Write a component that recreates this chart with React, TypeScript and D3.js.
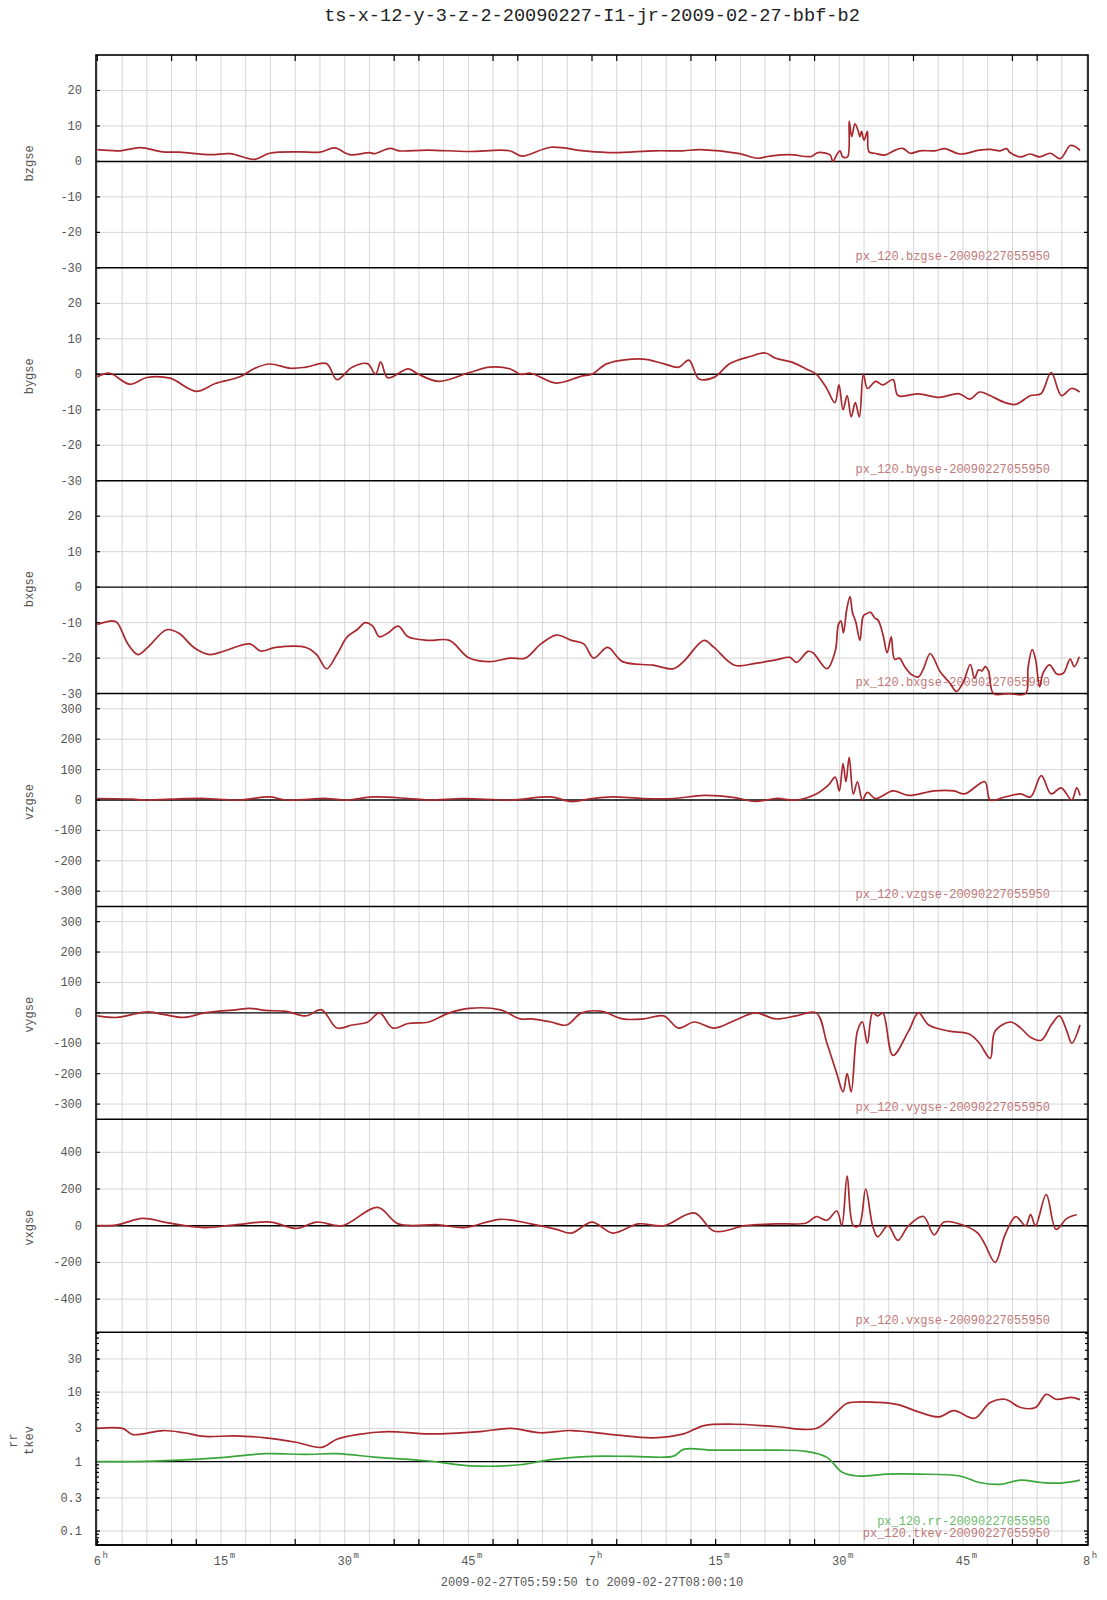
import React from 'react';
import * as d3 from 'd3';

const TITLE = 'ts-x-12-y-3-z-2-20090227-I1-jr-2009-02-27-bbf-b2';
const SUBTITLE = '2009-02-27T05:59:50 to 2009-02-27T08:00:10';

// time in minutes after 06:00
const T_START = -1 / 6;
const T_END = 120 + 1 / 6;

const X_LABELS: [number, string, string][] = [
  [0, '6', 'h'], [15, '15', 'm'], [30, '30', 'm'], [45, '45', 'm'], [60, '7', 'h'],
  [75, '15', 'm'], [90, '30', 'm'], [105, '45', 'm'], [120, '8', 'h'],
];
const X_TICKS = [0, 9, 12, 24, 36, 39, 48, 51, 60, 63, 72, 75, 84, 87, 99, 111, 114];

const B_TICKS = [-30, -20, -10, 0, 10, 20];
const V_TICKS = [-300, -200, -100, 0, 100, 200, 300];
const VX_TICKS = [-400, -200, 0, 200, 400];
const LOG_TICKS = [0.1, 0.3, 1, 3, 10, 30];
const LOG_LABELS = ['0.1', '0.3', '1', '3', '10', '30'];

const bzgse: [number, number][] = [
  [0, 3.3], [2.8, 3.0], [5.2, 3.9], [7.9, 2.7], [10, 2.6], [13.7, 1.9], [16.1, 2.2], [19.1, 0.6],
  [20.9, 2.3], [24.5, 2.7], [27, 2.6], [28.8, 3.8], [30.6, 1.9], [33, 2.5], [33.6, 2.2], [35.5, 3.7],
  [36.6, 3.0], [40, 3.2], [45, 2.8], [50, 3.0], [51.5, 1.5], [55, 4.0], [59, 3.0], [62.6, 2.5],
  [67.6, 3.0], [71, 3.0], [73.1, 3.3], [77.9, 2.2], [80, 0.9], [81.6, 1.5], [84, 1.9], [86.6, 1.4],
  [87.4, 2.5], [88.9, 1.8], [89.2, 0.0], [89.8, 2.3], [90.1, 3.0], [90.4, 1.3], [91, 1.3], [91.2, 11.4],
  [91.5, 7], [91.9, 10.6], [92.3, 8.5], [92.5, 7], [92.7, 8.5], [93, 6], [93.4, 8.5], [93.6, 2.7],
  [94.3, 2.3], [95.5, 1.8], [96.8, 3.2], [97.7, 3.7], [98.6, 2.3], [99.8, 3], [101.6, 3], [102.8, 3.6],
  [104.6, 2.1], [107, 3.2], [108.3, 3.4], [109.5, 3], [110.3, 3.6], [110.7, 2.5], [112, 1.3], [113.1, 2.1],
  [114.3, 1.3], [115.6, 2.3], [116.8, 0.8], [118, 4.5], [118.6, 4.2], [119.2, 3.1],
];

const bygse: [number, number][] = [
  [0, -0.7], [1.5, 0.3], [3.9, -2.8], [6, -0.9], [8.8, -1.1], [12, -4.8], [14.3, -2.6], [17.3, -0.7],
  [19.1, 1.7], [20.9, 2.9], [23.4, 1.7], [25.3, 2], [27.8, 3], [29.05, -1.5], [30.9, 2], [32.76, 3],
  [33.75, 0], [34.37, 3.5], [35.23, -1], [37.71, 1.5], [38.95, 0], [41.42, -2], [45.14, 0.5], [47.61, 2],
  [50.09, 1.5], [51.33, 0], [52.56, 0.3], [55.66, -2.5], [58.75, -0.5], [60, 0], [61.85, 3], [66.18, 4.3],
  [68.66, 3], [70.52, 2], [71.75, 4], [72.99, -1.3], [74.85, -0.8], [76.7, 3], [79.18, 5], [81.04, 6],
  [82.28, 4.5], [84.14, 3.5], [85.99, 1.5], [87.23, 0], [88.47, -4], [89.46, -8], [89.96, -3], [90.45, -10],
  [90.95, -6], [91.44, -12], [91.94, -8], [92.43, -12], [92.92, 0], [93.42, -4], [94.41, -2], [95.28, -3],
  [96.52, -1.5], [97.13, -6], [99.61, -5.5], [102.09, -6.5], [104.56, -5.5], [105.8, -7], [107.04, -5],
  [108.27, -6], [110.13, -8], [111.37, -8.5], [113.22, -6], [114.46, -5.5], [115.7, 0.5], [116.94, -6],
  [118.17, -4], [119.16, -5],
];

const bxgse: [number, number][] = [
  [0, -10.5], [1.8, -9.5], [2.4, -10], [3.7, -16], [4.9, -19], [6.1, -17], [8.4, -12], [9.9, -13],
  [11.7, -17], [13.6, -19], [15.4, -18], [18.5, -16], [19.8, -18], [21.6, -17], [25.3, -17], [26.6, -19],
  [27.8, -23], [29.05, -19], [30.3, -14], [31.5, -12], [32.5, -10], [33.4, -11], [34.2, -14], [35.2, -13],
  [36.5, -11], [37.7, -14], [40.2, -15], [42.7, -15], [45.1, -20], [47.6, -21], [50.1, -20], [51.9, -20],
  [53.8, -16], [55.7, -13.5], [57.5, -15], [59, -16], [60.2, -20], [61.9, -17], [63.7, -21], [67.4, -22],
  [69.9, -23], [71.1, -21], [73.6, -15], [74.8, -17], [77.3, -22], [79.8, -21.5], [82.3, -20.5], [84, -19.8],
  [84.8, -21.2], [86.2, -18.1], [86.8, -18.5], [88.5, -23], [89.5, -18.1], [89.9, -10.5], [90.2, -9.6],
  [90.5, -12.9], [90.9, -6.3], [91.3, -2.7], [91.6, -7.2], [92, -9.8], [92.5, -15], [92.9, -8.2], [93.3, -7.5],
  [93.8, -7.1], [94.3, -8.7], [94.7, -9.3], [95.3, -13.4], [95.8, -18.5], [96.3, -14], [96.7, -20.3],
  [97.3, -20], [97.9, -22.3], [98.8, -24.7], [99.6, -25.3], [100.2, -23], [101, -18.7], [101.4, -19.8],
  [102.2, -23.7], [103.4, -27], [104.2, -29.4], [105, -27], [105.9, -21.8], [106.4, -25.7], [106.9, -23.3],
  [107.3, -23.6], [107.7, -22.4], [108.1, -23.6], [108.7, -33], [110.5, -35], [112.6, -33], [112.9, -22.6],
  [113.4, -17.6], [113.8, -20.3], [114.3, -28.1], [114.7, -24.3], [115.5, -21.9], [116.4, -24.5],
  [117.2, -24.2], [118, -20.3], [118.5, -22.4], [119.1, -19.6],
];

const vzgse: [number, number][] = [
  [0, 5], [4.3, 3], [5.5, 0], [9, 3], [13, 5], [17, 0], [21, 10], [22.9, 0], [27.8, 5], [30.3, 0],
  [33.4, 10], [37.7, 5], [40.2, 0], [44.5, 5], [50.1, 0], [55, 10], [57.5, -5], [60, 5], [62.5, 10],
  [66.2, 5], [69.9, 5], [73.6, 15], [77.3, 8], [79.8, -5], [82.3, 5], [84.8, 0], [87.2, 20], [88.7, 50],
  [89.5, 75], [90, 30], [90.45, 120], [90.8, 60], [91.2, 140], [91.7, 20], [92.2, 60], [92.8, 0],
  [93.4, 25], [94.4, 5], [96.5, 30], [98.4, 15], [101.5, 30], [103.9, 30], [105.2, 20], [107.65, 60],
  [108.3, 0], [110.1, 10], [112, 20], [113.2, 10], [114.5, 80], [115.7, 20], [116.9, 40], [118.2, 0],
  [118.8, 40], [119.2, 15],
];

const vygse: [number, number][] = [
  [0, -10], [2.4, -15], [4.3, -5], [6.1, 3], [8, -5], [10.5, -15], [13, 0], [16.7, 10], [18.5, 15],
  [20.4, 8], [22.9, 5], [25.3, -10], [27.2, 10], [29.05, -50], [30.9, -40], [32.8, -30], [34.24, 0],
  [35.85, -50], [37.7, -35], [40.2, -30], [42.7, 0], [45.1, 15], [48.9, 10], [51.3, -20], [52.6, -20],
  [55, -30], [56.9, -40], [58.75, 0], [61.2, 5], [63.7, -20], [66.2, -20], [68.7, -10], [70.5, -50],
  [72.4, -30], [74.85, -50], [77.3, -25], [79.8, 0], [82.3, -20], [84.75, -10], [87.2, 0], [88.5, -100],
  [89.7, -200], [90.45, -260], [90.95, -200], [91.44, -260], [92.2, -60], [92.8, -30], [93.4, -100],
  [94.04, 0], [94.66, -10], [95.28, 0], [96.5, -140], [98.4, -60], [99.6, 0], [100.85, -40], [103.3, -60],
  [105.8, -70], [107, -100], [108.3, -150], [108.9, -60], [110.75, -30], [112, -50], [113.2, -80],
  [114.5, -90], [115.7, -40], [116.7, -10], [117.6, -60], [118.2, -100], [119.2, -40],
];

const vxgse: [number, number][] = [
  [0, 0], [2.4, 5], [5.5, 40], [8.6, 15], [12.95, -10], [16.7, 5], [21, 20], [24.1, -15], [26.6, 20],
  [29.7, 0], [34, 100], [36.5, 10], [41.4, 5], [44.5, -10], [48.9, 35], [52.6, 10], [55.7, -20],
  [57.5, -40], [60, 20], [62.5, -40], [65.6, 10], [68.7, 0], [72.4, 70], [74.85, -30], [78.6, 0],
  [82.3, 10], [86, 15], [87.2, 50], [88.5, 30], [89.7, 80], [90.3, 0], [90.95, 270], [91.7, 0], [92.4, 0],
  [93.2, 200], [94.04, 0], [94.66, -60], [95.9, 0], [97.1, -80], [98.4, 0], [100.2, 50], [101.5, -50],
  [102.7, 20], [105.2, 0], [106.8, -40], [107.65, -100], [108.9, -200], [110.1, -50], [111.4, 50],
  [112.6, 0], [113.2, 60], [113.8, 0], [115.1, 170], [116.3, -20], [117.6, 40], [118.8, 60],
];

const tkev: [number, number][] = [
  [0, 3.0], [3.05, 3.0], [4.3, 2.45], [8, 2.8], [10.5, 2.6], [13, 2.3], [16.7, 2.35], [20.4, 2.2],
  [24.1, 1.9], [27.2, 1.6], [29.05, 2.1], [31.5, 2.45], [35.2, 2.7], [40.2, 2.5], [46.4, 2.7], [50.1, 3.0],
  [53.8, 2.6], [57.5, 2.8], [62.5, 2.45], [67.4, 2.2], [71.1, 2.5], [73.6, 3.3], [77.3, 3.45], [82.3, 3.2],
  [87.2, 3.0], [89.7, 5.2], [90.95, 6.9], [94.66, 7.1], [97.1, 6.6], [99.6, 5.2], [102.1, 4.4], [103.9, 5.4],
  [106.4, 4.2], [108.3, 7.1], [110.1, 7.9], [112, 6], [113.8, 6], [115.1, 9.3], [116.3, 7.9], [118.2, 8.4],
  [119.2, 7.8],
];

const rr: [number, number][] = [
  [0, 1.0], [4.3, 1.0], [9.2, 1.04], [15.4, 1.15], [20.4, 1.3], [25.3, 1.27], [29.05, 1.3], [34, 1.15],
  [40.2, 1.02], [45.1, 0.87], [51.3, 0.9], [55, 1.07], [60, 1.19], [64.9, 1.19], [69.9, 1.2], [71.1, 1.5],
  [74.85, 1.46], [82.3, 1.46], [85.99, 1.4], [88.5, 1.15], [90.3, 0.71], [92.2, 0.62], [95.9, 0.66],
  [99.6, 0.66], [104.6, 0.62], [107, 0.5], [109.5, 0.47], [112, 0.54], [114.5, 0.5], [116.9, 0.49],
  [119.2, 0.54],
];

const RED = '#a8282e';
const GREEN = '#3aa63a';
const RED_TXT = '#c07878';
const GREEN_TXT = '#6cbc6c';
const GRID = '#d6d6d6';
const LABEL = '#555555';
const FONT = '"Liberation Mono", "DejaVu Sans Mono", monospace';

type Panel = {
  names: string[];
  log?: boolean;
  domain: [number, number];
  ticks: number[];
  labels?: string[];
  base: number;
  series: { data: [number, number][]; color: string }[];
  legends: { text: string; color: string }[];
};

const PANELS: Panel[] = [
  { names: ['bzgse'], domain: [-30, 30], ticks: B_TICKS, base: 0,
    series: [{ data: bzgse, color: RED }], legends: [{ text: 'px_120.bzgse-20090227055950', color: RED_TXT }] },
  { names: ['bygse'], domain: [-30, 30], ticks: B_TICKS, base: 0,
    series: [{ data: bygse, color: RED }], legends: [{ text: 'px_120.bygse-20090227055950', color: RED_TXT }] },
  { names: ['bxgse'], domain: [-30, 30], ticks: B_TICKS, base: 0,
    series: [{ data: bxgse, color: RED }], legends: [{ text: 'px_120.bxgse-20090227055950', color: RED_TXT }] },
  { names: ['vzgse'], domain: [-350, 350], ticks: V_TICKS, base: 0,
    series: [{ data: vzgse, color: RED }], legends: [{ text: 'px_120.vzgse-20090227055950', color: RED_TXT }] },
  { names: ['vygse'], domain: [-350, 350], ticks: V_TICKS, base: 0,
    series: [{ data: vygse, color: RED }], legends: [{ text: 'px_120.vygse-20090227055950', color: RED_TXT }] },
  { names: ['vxgse'], domain: [-580, 580], ticks: VX_TICKS, base: 0,
    series: [{ data: vxgse, color: RED }], legends: [{ text: 'px_120.vxgse-20090227055950', color: RED_TXT }] },
  { names: ['rr', 'tkev'], log: true, domain: [0.063, 73], ticks: LOG_TICKS, labels: LOG_LABELS, base: 1,
    series: [{ data: tkev, color: RED }, { data: rr, color: GREEN }],
    legends: [{ text: 'px_120.rr-20090227055950', color: GREEN_TXT }, { text: 'px_120.tkev-20090227055950', color: RED_TXT }] },
];

const W = 1107;
const H = 1600;
const PL = 96;
const PR = 1088;
const PT = 55;
const PB = 1545;
const PH = (PB - PT) / PANELS.length;

export default function App() {
  const x = d3.scaleLinear().domain([T_START, T_END]).range([PL, PR]);
  const vGrid = d3.range(0, 121, 3);

  return (
    <svg width={W} height={H} style={{ position: 'absolute', left: 0, top: 0, background: '#fff' }}
      fontFamily={FONT}>
      <rect x={0} y={0} width={W} height={H} fill="#fff" />
      <text x={(PL + PR) / 2} y={21} textAnchor="middle" fontSize={18.6} fill="#222">{TITLE}</text>

      {/* vertical grid */}
      {vGrid.map((t) => (
        <line key={'vg' + t} x1={x(t)} x2={x(t)} y1={PT} y2={PB} stroke={GRID} strokeWidth={1} />
      ))}

      {PANELS.map((p, i) => {
        const top = PT + i * PH;
        const bot = top + PH;
        const y = (p.log ? d3.scaleLog() : d3.scaleLinear())
          .domain(p.domain).range([bot, top]).clamp(true) as any;
        const line = d3.line<[number, number]>()
          .x((d) => x(d[0]))
          .y((d) => y(d[1]))
          .curve(d3.curveCatmullRom.alpha(0.5));
        const labels = p.labels || p.ticks.map((v) => String(v));
        const minor: number[] = [];
        if (p.log) {
          for (const dec of [0.01, 0.1, 1, 10]) {
            for (let k = 2; k <= 9; k++) {
              const v = k * dec;
              if (v > p.domain[0] && v < p.domain[1]) minor.push(v);
            }
          }
        }
        const midY = (top + bot) / 2 + 2;
        return (
          <g key={'p' + i}>
            {p.ticks.map((v, j) => {
              const yy = y(v);
              const isBase = v === p.base;
              if (Math.abs(yy - bot) < 0.5 || Math.abs(yy - top) < 0.5) return null;
              return (
                <line key={'hg' + j} x1={PL} x2={PR} y1={yy} y2={yy}
                  stroke={isBase ? '#000' : GRID} strokeWidth={isBase ? 1.4 : 1} />
              );
            })}
            {/* panel bottom boundary */}
            <line x1={PL} x2={PR} y1={bot} y2={bot} stroke="#000" strokeWidth={1.5} />
            {/* left/right ticks */}
            {p.ticks.map((v, j) => (
              <g key={'tk' + j}>
                <line x1={PL} x2={PL + 4} y1={y(v)} y2={y(v)} stroke="#000" strokeWidth={1.2} />
                <line x1={PR - 4} x2={PR} y1={y(v)} y2={y(v)} stroke="#000" strokeWidth={1.2} />
              </g>
            ))}
            {minor.map((v, j) => (
              <g key={'mn' + j}>
                <line x1={PL} x2={PL + 3} y1={y(v)} y2={y(v)} stroke="#000" strokeWidth={1.2} />
                <line x1={PR - 3} x2={PR} y1={y(v)} y2={y(v)} stroke="#000" strokeWidth={1.2} />
              </g>
            ))}
            {/* tick labels */}
            {p.ticks.map((v, j) => (
              <text key={'tl' + j} x={82} y={y(v) + 4} textAnchor="end" fontSize={12} fill={LABEL}>
                {labels[j]}
              </text>
            ))}
            {/* axis title */}
            {p.names.length === 1 ? (
              <text transform={`translate(33,${midY}) rotate(-90)`} textAnchor="middle" fontSize={12} fill={LABEL}>
                {p.names[0]}
              </text>
            ) : (
              p.names.map((n, k) => (
                <text key={'nm' + k} transform={`translate(${16.5 + k * 16.5},${midY}) rotate(-90)`}
                  textAnchor="middle" fontSize={12} fill={LABEL}>{n}</text>
              ))
            )}
            {/* legends */}
            {p.legends.map((l, k) => (
              <text key={'lg' + k} x={1050} y={bot - 8 - (p.legends.length - 1 - k) * 12.5}
                textAnchor="end" fontSize={12} fill={l.color}>{l.text}</text>
            ))}
            {/* data */}
            {p.series.map((s, k) => (
              <path key={'s' + k} d={line(s.data) || ''} fill="none" stroke={s.color} strokeWidth={1.7}
                strokeLinejoin="round" />
            ))}
          </g>
        );
      })}

      {/* frame */}
      <rect x={PL} y={PT} width={PR - PL} height={PB - PT} fill="none" stroke="#000" strokeWidth={1.6} />

      {/* x ticks top and bottom */}
      {X_TICKS.map((t) => (
        <g key={'xt' + t}>
          <line x1={x(t)} x2={x(t)} y1={PT} y2={PT + 6} stroke="#000" strokeWidth={1.2} />
          <line x1={x(t)} x2={x(t)} y1={PB - 6} y2={PB} stroke="#000" strokeWidth={1.2} />
        </g>
      ))}

      {/* x labels */}
      {X_LABELS.map(([t, main, sup]) => {
        const cx = x(t);
        const half = (main.length * 7.2) / 2;
        return (
          <g key={'xl' + t}>
            <text x={cx} y={1565} textAnchor="middle" fontSize={12} fill={LABEL}>{main}</text>
            <text x={cx + half + 1.5} y={1558} fontSize={9} fill={LABEL}>{sup}</text>
          </g>
        );
      })}
      <text x={(PL + PR) / 2} y={1586} textAnchor="middle" fontSize={12} fill={LABEL}>{SUBTITLE}</text>
    </svg>
  );
}
